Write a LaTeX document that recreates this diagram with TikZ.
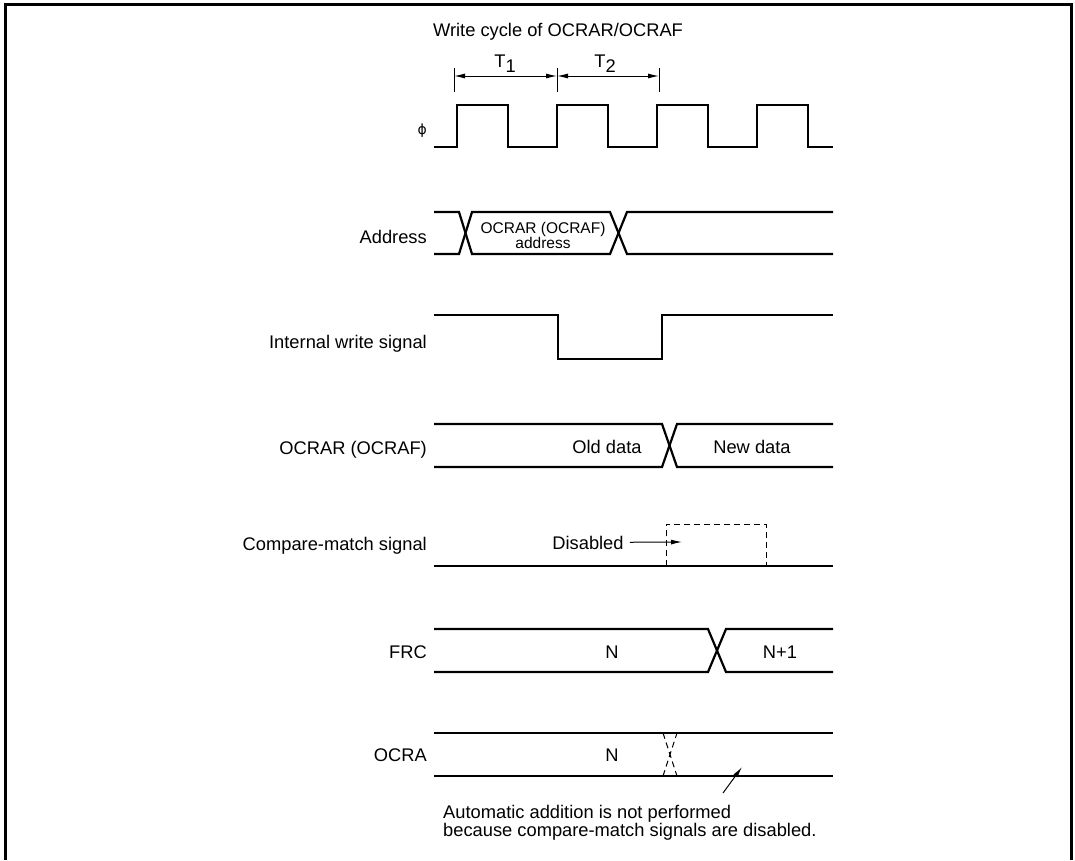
\documentclass[tikz,border=0pt]{standalone}
\usepackage{fontspec}
\setmainfont{Liberation Sans}
\newfontfamily\symbfont{DejaVu Sans}
\usetikzlibrary{arrows.meta}

\begin{document}
\begin{tikzpicture}[
  x=1pt, y=-1pt, >={Latex[length=11pt,width=5pt]},
  every node/.style={font=\fontsize{18.3}{15.5}\selectfont, inner sep=0pt},
  wave/.style={line width=2.2pt},
  guide/.style={line width=1pt},
  ghost/.style={line width=1pt, dash pattern=on 6pt off 4pt},
  lbl/.style={anchor=base east},
  val/.style={anchor=base},
]
  \useasboundingbox (0,0) rectangle (1075,860);
  \draw[line width=3pt] (5,860) -- (5,4) -- (1071,4) -- (1071,860);

  \node[val] (title) at (558,36) {Write cycle of OCRAR/OCRAF};
  \coordinate (m0) at (454,76);
  \coordinate (m1) at (557,76);
  \coordinate (m2) at (659,76);
  \foreach \m in {m0,m1,m2}
    \draw[guide] ([yshift=8pt]\m) -- ([yshift=-16pt]\m);
  \draw[guide,<->] (m0) -- (m1);
  \draw[guide,<->] (m1) -- (m2);
  \node[val] (tone) at (505,67) {T\raisebox{-5pt}{1}};
  \node[val] (ttwo) at (605,67) {T\raisebox{-5pt}{2}};

  \node[anchor=east, font=\symbfont\fontsize{14}{14}\selectfont] (phi) at (427,131) {ϕ};
  \draw[wave] (434,147) \foreach \x in {457,557,657,757} { -- (\x,147) -- (\x,105) -- (\x+51,105) -- (\x+51,147) } -- (833,147);

  \node[lbl] (addrlbl) at (427,243) {Address};
  \draw[wave] (434,212) -- (459,212) -- (472,254) -- (610,254) -- (627,212) -- (833,212);
  \draw[wave] (434,254) -- (459,254) -- (472,212) -- (610,212) -- (627,254) -- (833,254);
  \node[align=center, font=\fontsize{15.5}{15}\selectfont] (addrval) at (543,235) {OCRAR (OCRAF)\\address};

  \node[lbl] (wrlbl) at (427,348) {Internal write signal};
  \draw[wave] (434,315) -| (558,359) -| (662,315) -- (833,315);

  \node[lbl] (ocrlbl) at (427,454) {OCRAR (OCRAF)};
  \draw[wave] (434,424) -- (662,424) -- (677,467) -- (833,467);
  \draw[wave] (434,467) -- (662,467) -- (677,424) -- (833,424);
  \node[val] (old) at (607,453) {Old data};
  \node[val] (new) at (752,453) {New data};

  \node[lbl] (cmplbl) at (427,550) {Compare-match signal};
  \draw[wave] (434,566) -- (833,566);
  \draw[ghost] (666,566) |- (766,524) -- (766,566);
  \node[val] (dis) at (588,549) {Disabled};
  \coordinate (disend) at (682,542);
  \draw[guide,->,shorten <=6pt] (dis) -- (disend);

  \node[lbl] (frclbl) at (427,658) {FRC};
  \draw[wave] (434,629) -- (708,629) -- (726,672) -- (833,672);
  \draw[wave] (434,672) -- (708,672) -- (726,629) -- (833,629);
  \node[val] (frcn) at (612,658) {N};
  \node[val] (frcnext) at (780,658) {N+1};

  \node[lbl] (ocralbl) at (427,761) {OCRA};
  \draw[wave] (434,733) -- (833,733);
  \draw[wave] (434,776) -- (833,776);
  \draw[ghost] (663,733) -- (677,776);
  \draw[ghost] (663,776) -- (677,733);
  \node[val] (ocran) at (612,761) {N};

  \node[anchor=north west, align=left] (note) at (443,805) {Automatic addition is not performed\\because compare-match signals are disabled.};
  \coordinate (notefoot) at (723,793);
  \coordinate (notehead) at (742,767);
  \draw[guide,->] (notefoot) -- (notehead);
\end{tikzpicture}
\end{document}
